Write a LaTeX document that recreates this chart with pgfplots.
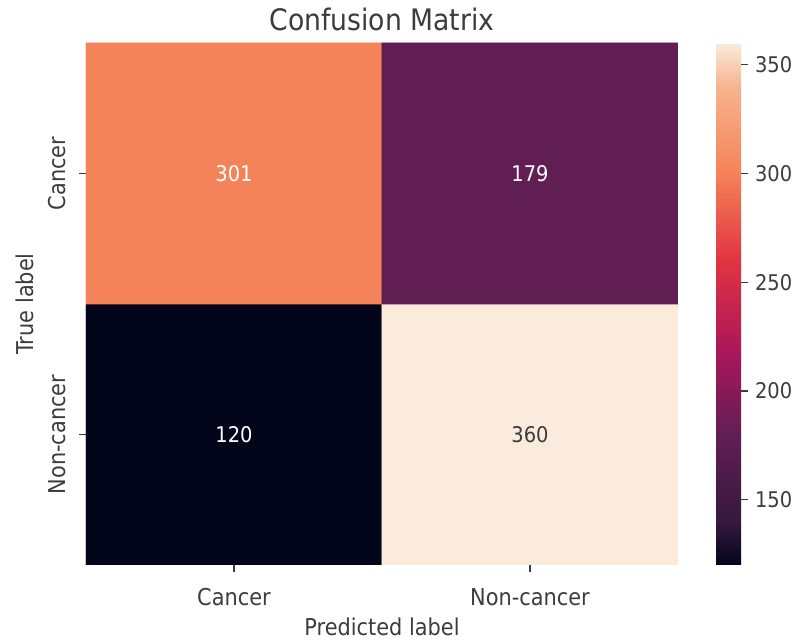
\documentclass[border=0pt]{standalone}
\usepackage{pgfplots}
\pgfplotsset{compat=1.18}
\usepackage{fontspec}
\setmainfont{DejaVu Sans}[FakeStretch=0.9]
\pgfplotsset{colormap={rocket}{rgb255(0)=(3,5,26) rgb255(1)=(53,25,62) rgb255(3)=(98,30,84) rgb255(5)=(173,23,89) rgb255(7)=(225,51,66) rgb255(9)=(245,130,88) rgb255(11)=(246,180,143) rgb255(12)=(250,235,221)}}
\definecolor{txt}{RGB}{60,60,60}
\begin{document}
\begin{tikzpicture}
\useasboundingbox (-43pt,-38.5pt) rectangle (357pt,282.5pt);
\begin{axis}[
  at={(0pt,0pt)}, anchor=south west,
  scale only axis, width=296pt, height=261pt,
  xmin=-0.5, xmax=1.5, ymin=-0.5, ymax=1.5,
  axis line style={draw=none},
  xtick={0,1}, ytick={0,1},
  xticklabels={Cancer,Non-cancer},
  yticklabels={Non-cancer,Cancer},
  xtick pos=bottom, ytick pos=left,
  tick align=outside, major tick length=3.5pt,
  tick style={txt, line width=0.6pt},
  xticklabel style={font=\fontsize{11.6}{13}\selectfont, text=txt, anchor=center, yshift=-12.5pt},
  yticklabel style={font=\fontsize{11.6}{13}\selectfont, text=txt, rotate=90, anchor=center, yshift=11pt},
  xlabel={Predicted label}, ylabel={True label},
  xlabel style={font=\fontsize{11.6}{13}\selectfont, text=txt, at={(axis description cs:0.5,0)}, anchor=center, yshift=-31pt},
  ylabel style={font=\fontsize{11.6}{13}\selectfont, text=txt, at={(axis description cs:0,0.5)}, anchor=center, yshift=30.5pt},
  title={Confusion Matrix},
  title style={font=\fontsize{14.8}{17}\selectfont, text=txt, at={(axis description cs:0.5,1)}, anchor=base, yshift=0pt},
  colormap name=rocket,
  point meta min=120, point meta max=360,
  colorbar,
  colorbar style={
    at={(parent axis.north east)}, anchor=north west, xshift=10.5pt,
    width=12.5pt, height=261pt,
    axis line style={draw=none},
    ytick={150,200,250,300,350},
    ytick pos=right, yticklabel pos=right,
    tick align=outside, major tick length=3.5pt,
    tick style={txt, line width=0.6pt},
    yticklabel style={font=\fontsize{10.8}{13}\selectfont, text=txt},
    /pgf/number format/assume math mode=true,
  },
]
\addplot[matrix plot*, mesh/cols=2, point meta=explicit] table[meta=c]{
x y c
0 0 120
1 0 360
0 1 301
1 1 179
};
\addplot[draw=none, mark=none, point meta=explicit symbolic, nodes near coords,
  nodes near coords style={anchor=center, text=white, font=\fontsize{10.8}{13}\selectfont}]
  table[meta=label]{
x y label
0 1 301
1 1 179
0 0 120
};
\addplot[draw=none, mark=none, point meta=explicit symbolic, nodes near coords,
  nodes near coords style={anchor=center, text=txt, font=\fontsize{10.8}{13}\selectfont}]
  table[meta=label]{
x y label
1 0 360
};
\end{axis}
\end{tikzpicture}
\end{document}
